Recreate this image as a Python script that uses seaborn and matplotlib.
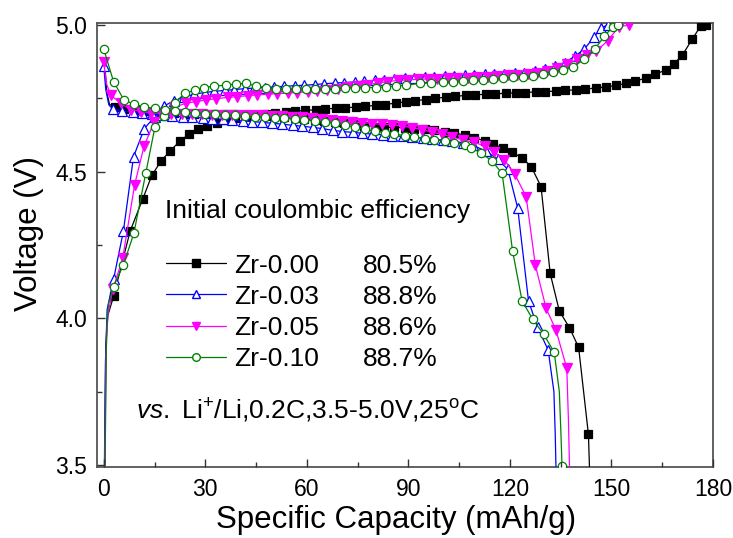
import numpy as np
import pandas as pd
import matplotlib
matplotlib.use("Agg")
import matplotlib.pyplot as plt
import seaborn as sns
from matplotlib.lines import Line2D
from matplotlib.ticker import MultipleLocator, FormatStrFormatter

# ---------------- data ----------------
samples = ["Zr-0.00", "Zr-0.03", "Zr-0.05", "Zr-0.10"]
efficiency = ["80.5%", "88.8%", "88.6%", "88.7%"]

# Zr-0.00 charge
cap_chg_000 = [0.3, 0.6, 1.2, 2.96, 7.79, 11.53, 14.19, 16.95, 19.71, 22.66, 25.32, 27.98, 30.64,
               33.6, 35.96, 38.9, 41.9, 44.8, 47.8, 50.7, 53.7, 56.6, 59.6, 62.6, 65.5, 68.5, 71.4,
               74.4, 77.3, 80.3, 83.2, 86.2, 89.2, 92.1, 95.1, 98.0, 101.0, 103.9, 106.9, 109.8,
               112.8, 115.7, 118.7, 121.7, 124.6, 127.6, 130.5, 133.5, 136.4, 139.4, 142.3, 145.3,
               148.3, 151.2, 154.2, 157.1, 160.1, 163.0, 166.0, 168.4, 170.9, 173.9, 176.4, 177.8]
vol_chg_000 = [3.50, 3.90, 4.01, 4.077, 4.297, 4.407, 4.487, 4.537, 4.572, 4.606, 4.629, 4.647, 4.657,
               4.667, 4.675, 4.683, 4.689, 4.694, 4.697, 4.700, 4.703, 4.706, 4.709, 4.711, 4.714,
               4.716, 4.718, 4.720, 4.723, 4.726, 4.729, 4.734, 4.738, 4.742, 4.746, 4.750, 4.754,
               4.757, 4.760, 4.762, 4.764, 4.766, 4.767, 4.769, 4.770, 4.772, 4.773, 4.775, 4.777,
               4.779, 4.782, 4.785, 4.789, 4.794, 4.801, 4.809, 4.819, 4.832, 4.847, 4.867, 4.897,
               4.952, 4.998, 5.0]
# Zr-0.00 discharge
cap_dis_000 = [0.3, 0.9, 1.7, 3.2, 6.1, 9.1, 12.0, 15.0, 17.9, 20.9, 23.8, 26.8, 29.8, 32.7, 35.7,
               38.6, 41.6, 44.5, 47.5, 50.4, 53.4, 56.4, 59.3, 62.3, 65.2, 68.2, 71.1, 74.1, 77.0,
               80.0, 82.9, 85.9, 88.9, 91.8, 94.8, 97.7, 100.7, 103.6, 106.6, 109.5, 112.5, 115.1,
               117.9, 120.6, 123.5, 126.3, 129.2, 131.9, 134.6, 137.6, 140.3, 143.2, 143.5]
vol_dis_000 = [4.87, 4.77, 4.73, 4.719, 4.713, 4.709, 4.706, 4.704, 4.702, 4.700, 4.698, 4.697,
               4.696, 4.696, 4.696, 4.695, 4.694, 4.693, 4.691, 4.689, 4.686, 4.683, 4.680, 4.677,
               4.673, 4.669, 4.665, 4.661, 4.657, 4.654, 4.652, 4.651, 4.650, 4.647, 4.644, 4.641,
               4.637, 4.632, 4.625, 4.616, 4.605, 4.593, 4.582, 4.566, 4.548, 4.517, 4.449, 4.153,
               4.025, 3.968, 3.901, 3.604, 3.495]

# Zr-0.03 charge
cap_chg_003 = [0.2, 0.5, 1.0, 2.9, 5.8, 8.8, 12.0, 15.0, 17.9, 20.9, 23.8, 26.8, 29.8, 32.7, 35.7,
               38.6, 41.6, 44.5, 47.5, 50.4, 53.4, 56.4, 59.3, 62.3, 65.2, 68.2, 71.1, 74.1, 77.0,
               80.0, 82.9, 85.9, 88.9, 91.8, 94.8, 97.7, 100.7, 103.6, 106.6, 109.5, 112.5, 115.4,
               118.4, 121.4, 124.3, 127.3, 130.3, 133.2, 136.2, 139.1, 142.0, 144.9, 146.9, 148.9]
vol_chg_003 = [3.50, 3.85, 4.03, 4.133, 4.297, 4.551, 4.647, 4.687, 4.725, 4.742, 4.755, 4.764,
               4.770, 4.774, 4.777, 4.780, 4.783, 4.785, 4.787, 4.789, 4.791, 4.793, 4.795, 4.797,
               4.800, 4.802, 4.804, 4.806, 4.809, 4.811, 4.814, 4.817, 4.819, 4.821, 4.823, 4.824,
               4.826, 4.827, 4.829, 4.830, 4.832, 4.833, 4.834, 4.836, 4.838, 4.842, 4.849, 4.860,
               4.872, 4.893, 4.918, 4.960, 4.990, 5.0]
# Zr-0.03 discharge
cap_dis_003 = [0.0, 0.6, 1.5, 2.6, 5.5, 8.5, 11.4, 14.4, 17.3, 20.3, 23.3, 26.2, 29.2, 32.1, 35.1,
               38.0, 41.0, 43.9, 46.9, 49.8, 52.8, 55.8, 58.7, 61.7, 64.6, 67.6, 70.5, 73.5, 76.4,
               79.4, 82.4, 85.3, 88.3, 91.2, 94.2, 97.1, 100.1, 103.0, 106.0, 109.0, 113.0, 116.4,
               119.4, 122.3, 125.5, 128.2, 131.3, 133.0, 133.4, 133.6]
vol_dis_003 = [4.860, 4.780, 4.728, 4.714, 4.707, 4.702, 4.699, 4.696, 4.693, 4.690, 4.687, 4.685,
               4.683, 4.681, 4.678, 4.676, 4.673, 4.671, 4.668, 4.665, 4.662, 4.658, 4.655, 4.651,
               4.647, 4.641, 4.637, 4.634, 4.631, 4.628, 4.626, 4.623, 4.620, 4.618, 4.615, 4.612,
               4.608, 4.604, 4.599, 4.590, 4.570, 4.542, 4.508, 4.376, 4.059, 3.969, 3.892, 3.75,
               3.60, 3.495]

# Zr-0.05 charge
cap_chg_005 = [0.3, 0.7, 1.2, 2.7, 5.6, 9.1, 11.9, 14.9, 17.8, 20.9, 24.2, 27.2, 30.1, 33.1, 36.6,
               39.5, 42.5, 45.4, 48.4, 51.3, 54.3, 57.2, 60.2, 63.1, 66.1, 69.1, 72.0, 75.0, 77.9,
               80.9, 83.8, 86.8, 89.7, 92.7, 95.7, 98.6, 101.6, 104.5, 107.5, 110.4, 113.4, 116.3,
               119.3, 122.2, 125.2, 128.1, 131.1, 134.0, 137.0, 139.9, 142.8, 145.5, 148.9, 152.3,
               155.3]
vol_chg_005 = [3.50, 3.88, 4.01, 4.10, 4.205, 4.454, 4.587, 4.670, 4.701, 4.720, 4.733, 4.739,
               4.744, 4.749, 4.753, 4.756, 4.759, 4.762, 4.764, 4.766, 4.768, 4.770, 4.773, 4.776,
               4.779, 4.783, 4.788, 4.793, 4.797, 4.802, 4.807, 4.811, 4.813, 4.815, 4.816, 4.817,
               4.818, 4.819, 4.820, 4.822, 4.824, 4.826, 4.828, 4.830, 4.833, 4.837, 4.843, 4.852,
               4.866, 4.883, 4.897, 4.910, 4.947, 4.995, 5.0]
# Zr-0.05 discharge
cap_dis_005 = [0.0, 0.8, 2.1, 5.0, 8.0, 11.0, 14.0, 17.0, 20.0, 23.0, 26.0, 29.0, 32.0, 35.0, 37.9,
               40.9, 43.9, 46.8, 49.8, 52.7, 55.7, 58.6, 61.6, 64.6, 67.5, 70.5, 73.4, 76.4, 79.3,
               82.3, 85.3, 88.2, 91.2, 94.1, 97.0, 100.0, 103.0, 106.0, 109.5, 112.5, 115.4, 118.4,
               121.4, 124.8, 127.5, 130.7, 133.6, 136.8, 137.3, 137.6]
vol_dis_005 = [4.875, 4.80, 4.761, 4.733, 4.712, 4.705, 4.701, 4.699, 4.697, 4.696, 4.695, 4.695,
               4.694, 4.694, 4.694, 4.693, 4.693, 4.692, 4.691, 4.689, 4.687, 4.685, 4.682, 4.679,
               4.676, 4.673, 4.670, 4.667, 4.664, 4.661, 4.660, 4.656, 4.650, 4.643, 4.635, 4.627,
               4.618, 4.609, 4.600, 4.588, 4.567, 4.540, 4.492, 4.415, 4.182, 4.034, 3.960, 3.830,
               3.65, 3.495]

# Zr-0.10 charge
cap_chg_010 = [0.4, 0.8, 1.4, 2.9, 5.8, 8.9, 12.4, 15.1, 17.8, 21.0, 23.9, 26.9, 29.7, 32.7, 36.2,
               39.1, 42.1, 45.0, 48.0, 50.9, 53.9, 56.9, 59.9, 62.4, 65.3, 68.3, 71.3, 74.3, 77.3,
               80.3, 83.3, 86.3, 89.3, 93.3, 96.7, 100.2, 103.1, 106.1, 109.0, 112.0, 114.9, 117.9,
               120.8, 123.8, 126.7, 129.7, 132.6, 135.6, 138.6, 142.0, 145.0, 147.9, 150.4, 151.8]
vol_chg_010 = [3.50, 3.95, 4.05, 4.108, 4.182, 4.290, 4.494, 4.651, 4.690, 4.735, 4.767, 4.778,
               4.787, 4.792, 4.795, 4.799, 4.801, 4.792, 4.787, 4.781, 4.781, 4.781, 4.781, 4.781,
               4.781, 4.783, 4.785, 4.786, 4.787, 4.787, 4.789, 4.793, 4.795, 4.801, 4.803, 4.807,
               4.807, 4.810, 4.812, 4.812, 4.815, 4.818, 4.822, 4.824, 4.826, 4.833, 4.841, 4.847,
               4.858, 4.883, 4.917, 4.962, 4.994, 5.0]
# Zr-0.10 discharge
cap_dis_010 = [0.0, 2.9, 6.0, 9.0, 11.9, 15.1, 18.0, 21.0, 23.9, 26.9, 29.8, 32.8, 35.7, 38.7, 41.6,
               44.6, 47.5, 50.5, 53.4, 56.4, 59.3, 62.3, 65.3, 68.2, 71.2, 74.1, 77.1, 80.0, 83.0,
               85.9, 88.9, 91.8, 94.8, 97.7, 100.7, 103.6, 106.6, 108.6, 111.5, 114.7, 117.7, 120.8,
               123.6, 126.7, 130.0, 133.1, 134.6, 135.1, 135.4]
vol_dis_010 = [4.918, 4.807, 4.744, 4.730, 4.721, 4.716, 4.710, 4.706, 4.703, 4.700, 4.698, 4.696,
               4.694, 4.692, 4.690, 4.688, 4.686, 4.684, 4.682, 4.680, 4.677, 4.674, 4.670, 4.665,
               4.659, 4.652, 4.645, 4.639, 4.633, 4.628, 4.623, 4.617, 4.613, 4.609, 4.605, 4.599,
               4.592, 4.582, 4.563, 4.537, 4.494, 4.229, 4.059, 3.998, 3.945, 3.884, 3.75, 3.60,
               3.495]

curves = {
    "Zr-0.00": [(cap_chg_000, vol_chg_000), (cap_dis_000, vol_dis_000)],
    "Zr-0.03": [(cap_chg_003, vol_chg_003), (cap_dis_003, vol_dis_003)],
    "Zr-0.05": [(cap_chg_005, vol_chg_005), (cap_dis_005, vol_dis_005)],
    "Zr-0.10": [(cap_chg_010, vol_chg_010), (cap_dis_010, vol_dis_010)],
}

# ---------------- styles ----------------
styles = {
    "Zr-0.00": dict(color="#000000", marker="s", mfc="#000000", ms=5.8),
    "Zr-0.03": dict(color="#0000FF", marker="^", mfc="white", ms=6.5),
    "Zr-0.05": dict(color="#FF00FF", marker="v", mfc="#FF00FF", ms=6.5),
    "Zr-0.10": dict(color="#008000", marker="o", mfc="white", ms=6.0),
}
# indices of points that only shape the line (no marker)
unmarked = {
    ("Zr-0.00", 0): [0, 1, 2], ("Zr-0.00", 1): [0, 1, 2, -1],
    ("Zr-0.03", 0): [0, 1, 2], ("Zr-0.03", 1): [1, 2, -3, -2, -1],
    ("Zr-0.05", 0): [0, 1, 2], ("Zr-0.05", 1): [1, -2, -1],
    ("Zr-0.10", 0): [0, 1, 2], ("Zr-0.10", 1): [-3, -2],
}

sns.set_style("ticks", {"xtick.direction": "in", "ytick.direction": "in"})
plt.rcParams["font.family"] = ["Liberation Sans", "DejaVu Sans"]
plt.rcParams["mathtext.fontset"] = "custom"
plt.rcParams["mathtext.rm"] = "Liberation Sans"
plt.rcParams["mathtext.it"] = "Liberation Sans:italic"
for key in ["text.color", "axes.labelcolor", "xtick.color", "ytick.color"]:
    plt.rcParams[key] = "black"

fig = plt.figure(figsize=(7.33, 5.38), dpi=100)
ax = fig.add_axes([0.1323, 0.1325, 0.8404, 0.8253])

for name in samples:
    st = styles[name]
    for b, (cx, vy) in enumerate(curves[name]):
        n = len(cx)
        skip = {(i % n) for i in unmarked[(name, b)]}
        me = [i for i in range(n) if i not in skip]
        df = pd.DataFrame({"cap": cx, "volt": vy})
        sns.lineplot(data=df, x="cap", y="volt", ax=ax, sort=False, estimator=None,
                     color=st["color"], linewidth=0.9, marker=st["marker"],
                     markersize=st["ms"], markerfacecolor=st["mfc"],
                     markeredgecolor=st["color"], markeredgewidth=0.9,
                     markevery=me, legend=False, zorder=3)

ax.set_xlim(-2, 180)
ax.set_ylim(3.494, 5.008)
ax.xaxis.set_major_locator(MultipleLocator(30))
ax.xaxis.set_minor_locator(MultipleLocator(15))
ax.yaxis.set_major_locator(MultipleLocator(0.5))
ax.yaxis.set_minor_locator(MultipleLocator(0.25))
ax.yaxis.set_major_formatter(FormatStrFormatter("%.1f"))
for sp in ax.spines.values():
    sp.set_visible(True)
    sp.set_color("#555555")
    sp.set_linewidth(1.3)

ax.set_xlabel("Specific Capacity (mAh/g)", fontsize=22.5)
ax.set_ylabel("Voltage (V)", fontsize=22.5)
ax.xaxis.set_label_coords(0.486, -0.086)
ax.yaxis.set_label_coords(-0.086, 0.526)

# legend block
handles = [Line2D([], [], color=styles[s]["color"], linewidth=0.9, marker=styles[s]["marker"],
                  markersize=styles[s]["ms"] - 0.5, markerfacecolor=styles[s]["mfc"],
                  markeredgecolor=styles[s]["color"]) for s in samples]
leg = ax.legend(handles, samples, loc="upper left", bbox_to_anchor=(0.1115, 0.48),
                frameon=False, fontsize=19, handlelength=2.3, handletextpad=0.3,
                labelspacing=0.27, borderpad=0, borderaxespad=0)
ax.add_artist(leg)
blank = [Line2D([], [], alpha=0) for _ in samples]
ax.legend(blank, efficiency, loc="upper left", bbox_to_anchor=(0.431, 0.48),
          frameon=False, fontsize=19, handlelength=0, handletextpad=0,
          labelspacing=0.27, borderpad=0, borderaxespad=0)

ax.text(0.110, 0.576, "Initial coulombic efficiency", transform=ax.transAxes,
        fontsize=19, ha="left", va="center")
ax.text(0.064, 0.125, r"$\it{vs.}$ Li$^{+}$/Li,0.2C,3.5-5.0V,25$^{\mathrm{o}}$C",
        transform=ax.transAxes, fontsize=19, ha="left", va="center")

# ticks: applied last and drawn above everything
ax.set_axisbelow(False)
ax.tick_params(axis="both", which="both", direction="in", bottom=True, left=True,
               top=False, right=False, color="#333333")
ax.tick_params(axis="both", which="major", length=6, width=1.0, labelsize=16.5, pad=7)
ax.tick_params(axis="both", which="minor", length=3.5, width=1.0)
ax.tick_params(axis="x", which="major", pad=8)
ax.xaxis.set_zorder(10)
ax.yaxis.set_zorder(10)
for axis in (ax.xaxis, ax.yaxis):
    for t in axis.get_major_ticks() + axis.get_minor_ticks():
        t.tick1line.set_visible(True)

fig.savefig("out.png", dpi=100)
